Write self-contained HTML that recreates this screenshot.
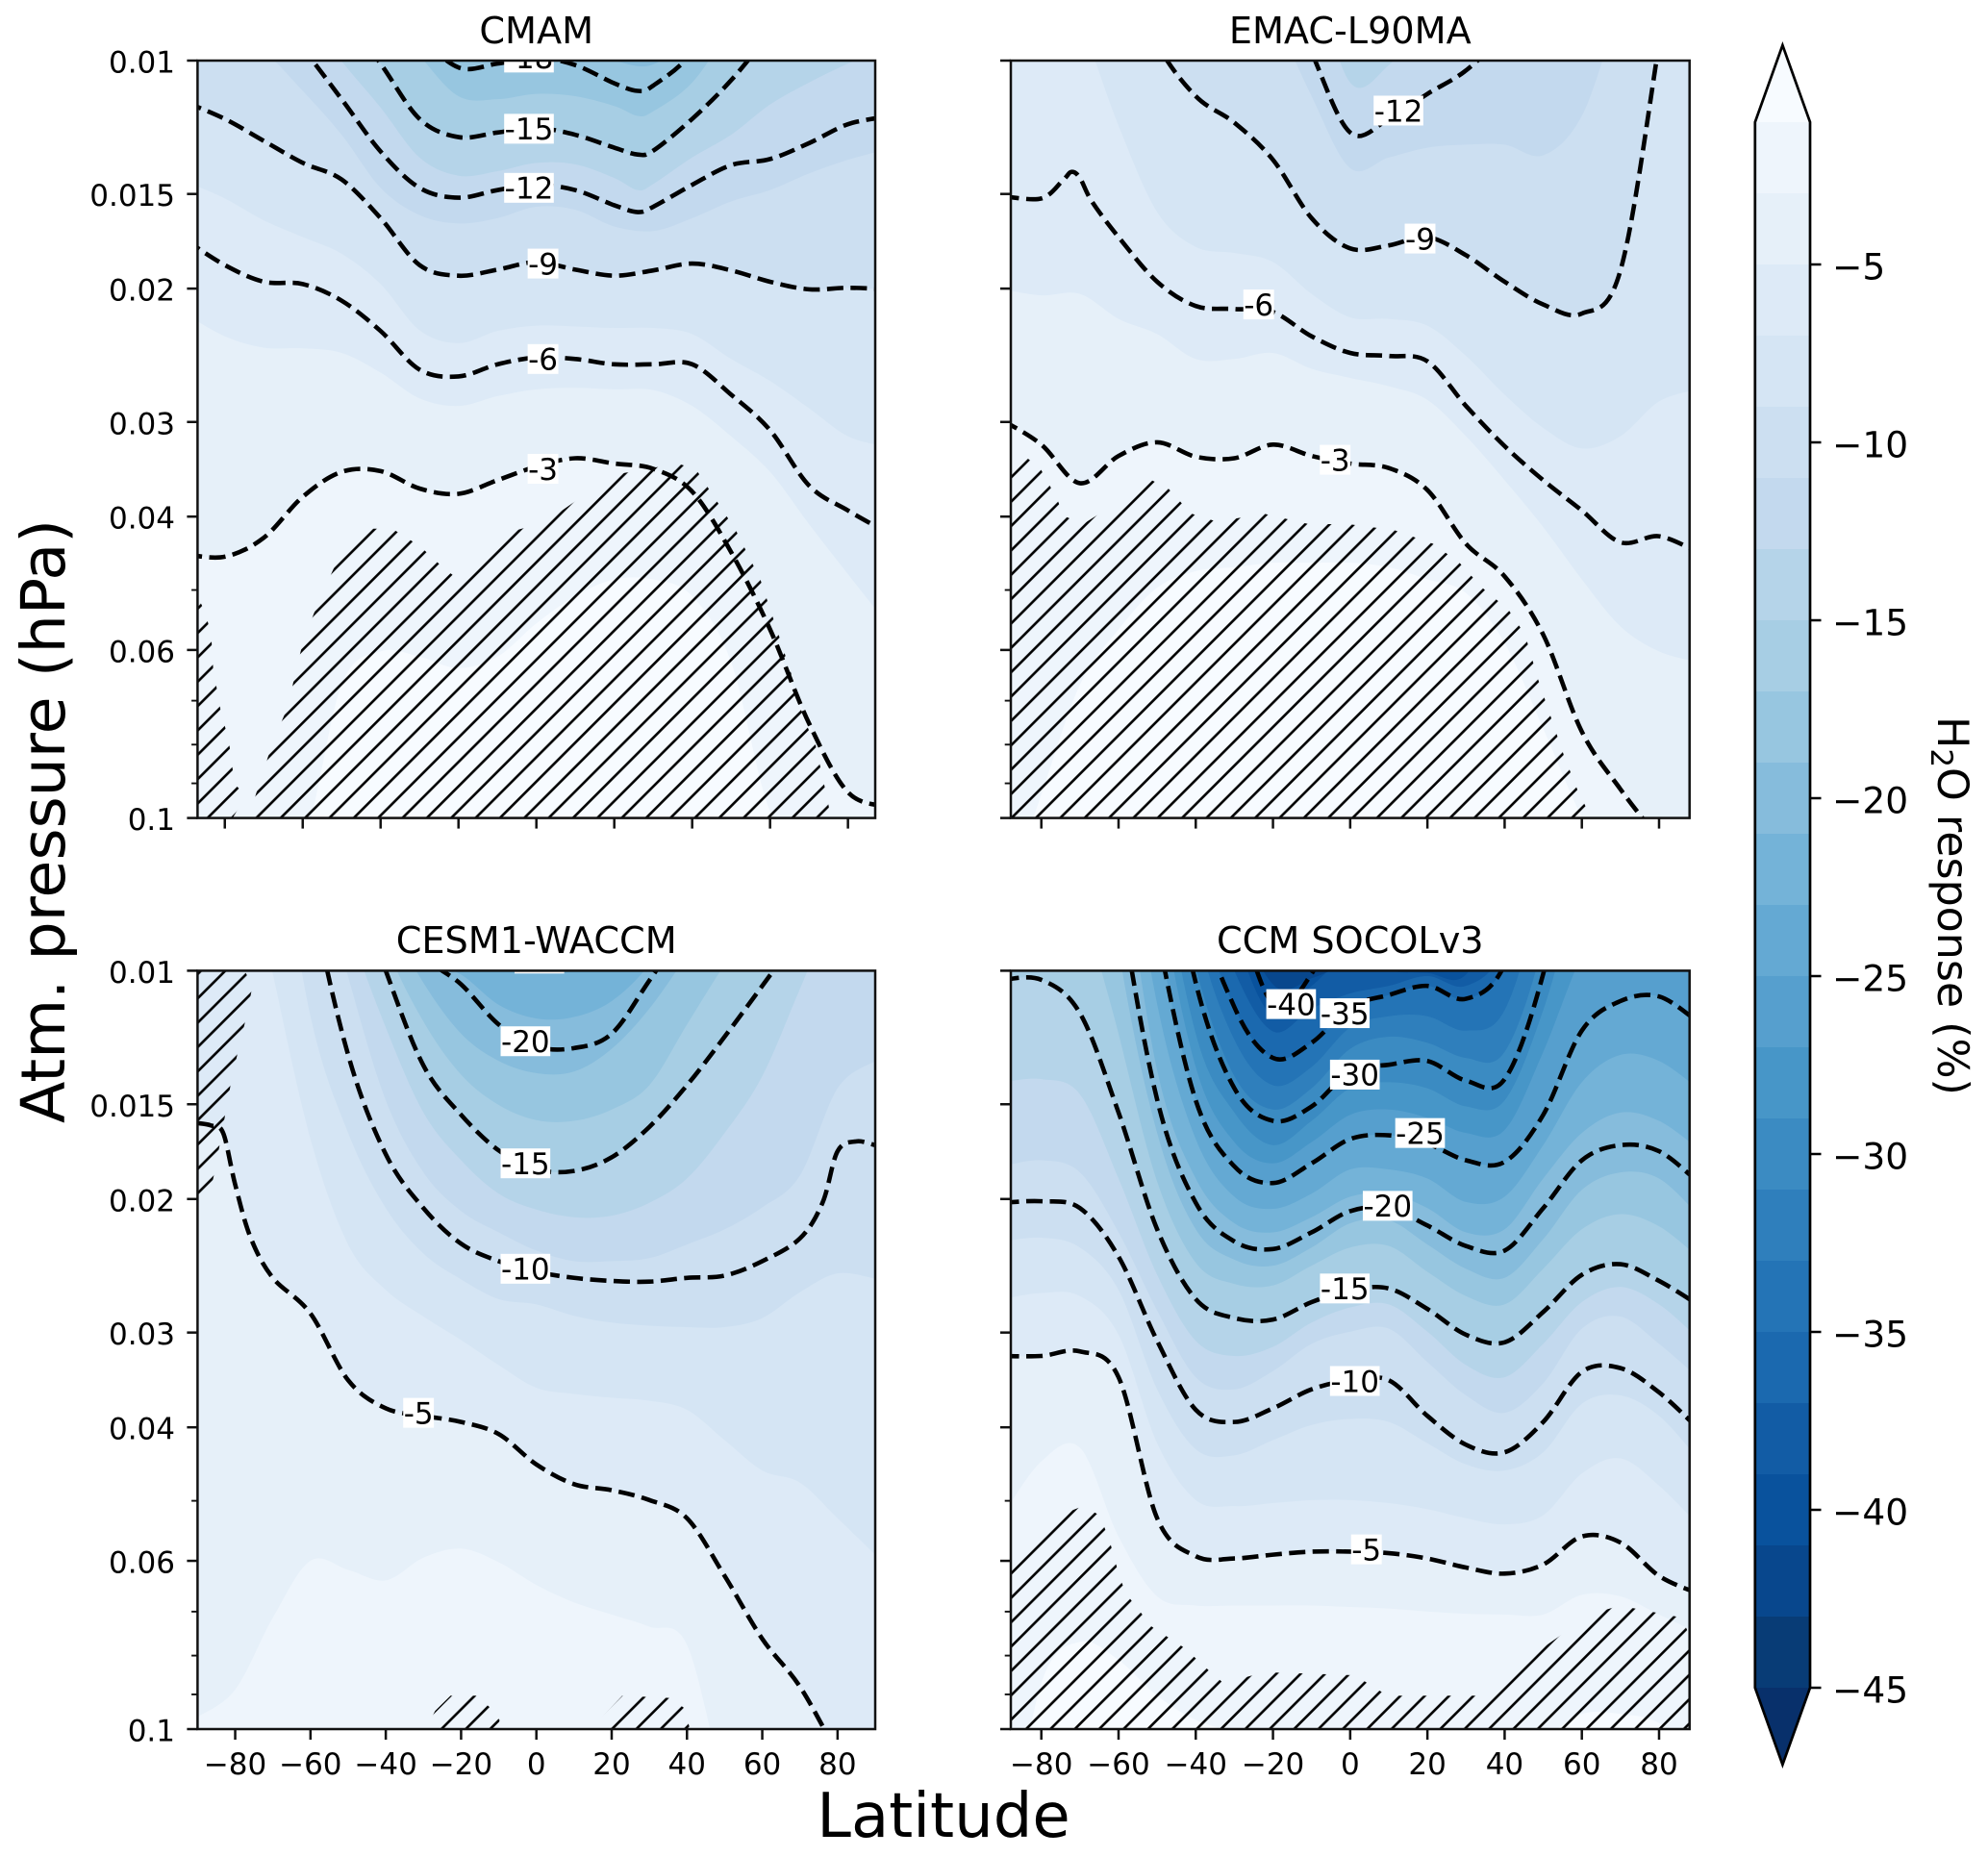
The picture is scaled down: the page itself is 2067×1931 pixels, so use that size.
<!DOCTYPE html>
<html lang="en">
<head>
<meta charset="utf-8">
<title>H2O response by latitude and pressure</title>
<style>
html,body{margin:0;padding:0;background:#fff}
svg{display:block}
text{font-family:"DejaVu Sans","Liberation Sans",sans-serif;fill:#000}
</style>
</head>
<body>
<svg id="figure" xmlns="http://www.w3.org/2000/svg" width="2067" height="1931" viewBox="0 0 2067 1931">
  <defs>
    <pattern id="hatch-pattern" patternUnits="userSpaceOnUse" width="25.33" height="25.33" patternTransform="translate(2.55,0)">
      <path d="M-2,2 L2,-2 M0,25.33 L25.33,0 M23.33,27.33 L27.33,23.33" stroke="#000" stroke-width="2.6" fill="none"/>
    </pattern>
  </defs>
  <rect x="0" y="0" width="2067" height="1931" fill="#fff"/>
  <g id="plots"></g>
  <g id="colorbar"></g>
  <text x="557.7" y="45" font-size="38.2" text-anchor="middle">CMAM</text>
  <text x="1403.8" y="45" font-size="38.2" text-anchor="middle">EMAC-L90MA</text>
  <text x="557.7" y="991" font-size="38.2" text-anchor="middle">CESM1-WACCM</text>
  <text x="1403.8" y="991" font-size="38.2" text-anchor="middle">CCM SOCOLv3</text>
  <text x="981" y="1910" font-size="64" text-anchor="middle">Latitude</text>
  <text transform="translate(67,854) rotate(-90)" font-size="63.5" text-anchor="middle">Atm. pressure (hPa)</text>
  <text transform="translate(2015,745) rotate(90)" font-size="44.3">H<tspan font-size="31" dy="7">2</tspan><tspan dy="-7">O response (%)</tspan></text>
</svg>
<script>
// logP values are log10(pressure / 0.01 hPa): 0 is 0.01 hPa, 1 is 0.1 hPa. Values outside 0..1 leave the axes.
const latitudes = [-90,-80,-70,-60,-50,-40,-30,-20,-10,0,10,20,30,40,50,60,70,80,90];
const xTickValues = [-80,-60,-40,-20,0,20,40,60,80];
const yTickPressures = [0.01,0.015,0.02,0.03,0.04,0.06,0.1];
const yTickLabels = ['0.01','0.015','0.02','0.03','0.04','0.06','0.1'];
const yMinorPressures = [0.05,0.07,0.08,0.09];
const colorbarTicks = [-5,-10,-15,-20,-25,-30,-35,-40,-45];
const colorBoundaries = [-1,-3,-5,-7,-9,-11,-13,-15,-17,-19,-21,-23,-25,-27,-29,-31,-33,-35,-37,-39,-41,-43,-45];
const bandColors = ['#eef5fc','#e6f0f9','#ddeaf7','#d5e5f4','#ccdff1','#c3d9ee','#b5d4e9','#a7cee4','#97c6e0','#86bcdc','#74b3d8','#64a9d3','#569fce','#4796c8','#3b8bc2','#2f7fbc','#2474b6','#1b69af','#125ca5','#09529d','#08478d','#083c76'];
const overColor = '#f7fbff';
const underColor = '#08306b';

const cmamLevels = [-1,-3,-5,-6,-7,-9,-11,-12,-13,-15,-17,-18,-19];
const cmamLogP = [
[1.035,1.035,1.035,1.035,.824,.78,.787,.802,.787,.743,.707,.685,.685,.707,.794,.991,1.035,1.035,1.035],
[.652,.655,.63,.576,.543,.542,.565,.572,.554,.536,.525,.532,.539,.569,.649,.751,.875,.966,.985],
[.335,.364,.379,.38,.386,.412,.446,.456,.443,.434,.432,.434,.435,.456,.496,.543,.612,.678,.743],
[.237,.27,.292,.295,.317,.357,.408,.417,.401,.392,.394,.401,.401,.401,.441,.488,.561,.594,.623],
[.16,.182,.211,.233,.255,.295,.356,.373,.357,.35,.351,.353,.353,.361,.394,.423,.459,.496,.51],
[.055,.077,.106,.135,.157,.208,.27,.284,.276,.266,.276,.284,.277,.268,.277,.292,.302,.3,.302],
[-.044,-.029,-.011,.04,.098,.168,.204,.215,.208,.193,.197,.219,.225,.208,.186,.171,.149,.131,.117],
[-.175,-.124,-.073,-.016,.051,.12,.168,.181,.171,.164,.171,.191,.193,.164,.138,.13,.109,.084,.074],
[-.226,-.175,-.124,-.066,.001,.062,.128,.152,.146,.135,.137,.155,.163,.128,.098,.058,.029,.004,-.018],
[-.299,-.248,-.19,-.131,-.066,.004,.077,.101,.095,.089,.098,.115,.119,.077,.026,-.036,-.095,-.153,-.211],
[-.34,-.29,-.24,-.19,-.131,-.073,-.007,.047,.051,.044,.047,.06,.067,.029,-.044,-.11,-.17,-.23,-.29],
[-.4,-.35,-.3,-.24,-.18,-.11,-.036,.009,.004,-.004,.006,.03,.033,-.011,-.1,-.17,-.23,-.29,-.35],
[-.45,-.4,-.35,-.3,-.23,-.16,-.07,-.012,-.02,-.03,-.02,0,.005,-.04,-.12,-.2,-.26,-.32,-.38]
];
const cmamKnotLevels = [-12,-13,-15,-17,-18];
const cmamKnotLat = [26,26,26,26,26];
const cmamKnotLogP = [.2,.171,.124,.073,.04];
const cmamLineLevels = [-3,-6,-9,-12,-15,-18];
const cmamLabelValues = [-18,-15,-12,-9,-6,-3];
const cmamLabelLat = [-1.9,-1.9,-1.9,1.7,1.7,1.7];
const cmamLabelLogP = [-.004,.09,.168,.268,.394,.539];
const cmamHatchLat = [
[-87,-85,-83.5,-83,-81,-79,-77.5,-74.5,-78,-87],
[-74,-70.9,-67.7,-63.8,-61.9,-59.8,-55.9,-50.4,-43.3,-37,-29.9,-23.6,-18.9,-11.8,-7.1,2.4,19.7,36.2,40.9,51.2,57.5,62.2,65.4,68.5,71.7,74.8,75.6]
];
const cmamHatchLogP = [
[.707,.729,.758,.802,.86,.897,.955,.971,1,1],
[1,.951,.9,.853,.809,.765,.714,.652,.618,.618,.641,.671,.689,.652,.623,.609,.547,.532,.539,.62,.685,.758,.809,.867,.904,.977,1]
];

const emacLevels = [-1,-3,-5,-6,-7,-9,-11,-12,-13];
const emacLogP = [
[1.122,.969,.824,.751,.696,.674,.669,.663,.663,.663,.669,.685,.703,.769,.882,.999,1.086,1.122,1.122],
[.475,.507,.558,.522,.504,.523,.525,.507,.522,.532,.538,.567,.638,.681,.758,.886,.962,1.028,1.093],
[.302,.31,.308,.341,.361,.394,.394,.386,.407,.419,.43,.448,.496,.554,.616,.685,.747,.78,.794],
[.179,.182,.155,.233,.292,.324,.328,.332,.364,.386,.39,.397,.456,.509,.554,.594,.636,.628,.649],
[-.226,-.138,-.051,.086,.2,.246,.254,.266,.308,.339,.341,.35,.39,.441,.485,.512,.496,.45,.434],
[-.299,-.248,-.204,-.138,-.022,.047,.082,.131,.208,.248,.244,.233,.257,.292,.322,.334,.277,-.022,-.372],
[-.467,-.43,-.394,-.357,-.314,-.262,-.189,-.066,.047,.142,.128,.115,.111,.111,.125,.073,-.066,-.153,-.226],
[-.54,-.5,-.46,-.41,-.36,-.3,-.226,-.138,-.011,.095,.077,.044,.013,-.036,-.095,-.153,-.21,-.27,-.33],
[-.6,-.55,-.5,-.45,-.4,-.35,-.3,-.22,-.117,.029,.006,-.058,-.12,-.18,-.24,-.3,-.36,-.42,-.48]
];
const emacKnotLevels = [-6,-6,-6];
const emacKnotLat = [-74.4,-72.2,-66.9];
const emacKnotLogP = [.158,.147,.186];
const emacLineLevels = [-3,-6,-9,-12];
const emacLabelValues = [-12,-9,-6,-3];
const emacLabelLat = [12.5,18.1,-23.7,-3.9];
const emacLabelLogP = [.066,.235,.322,.527];
const emacHatchLat = [
[-87.8,-83.6,-80.2,-75.9,-74.2,-69.2,-61.5,-51.4,-47.1,-41.2,-34.4,-22.5,-10.7,-.5,11.4,21.5,28.3,34.2,41,45.3,48.6,52,55.4,58.8,61,60,-87.8]
];
const emacHatchLogP = [
[.525,.525,.539,.579,.601,.612,.587,.554,.565,.598,.609,.598,.612,.612,.62,.638,.663,.696,.725,.758,.816,.867,.918,.962,.985,1,1]
];

const cesmLevels = [-3,-5,-7,-9,-10,-11,-13,-15,-17,-19,-20,-21];
const cesmLogP = [
[.984,.948,.853,.778,.79,.804,.774,.762,.78,.81,.833,.849,.865,.889,1.075,1.2,1.2,1.2,1.2],
[.201,.282,.405,.452,.54,.577,.587,.595,.611,.651,.677,.685,.698,.722,.798,.881,.944,1.032,1.115],
[-.472,-.234,.004,.222,.361,.421,.456,.487,.52,.55,.558,.563,.567,.579,.619,.659,.675,.722,.77],
[-.786,-.512,-.234,.06,.214,.313,.373,.407,.433,.44,.455,.464,.468,.47,.47,.458,.424,.399,.406],
[-1.107,-.79,-.393,-.106,.111,.242,.313,.36,.383,.397,.405,.409,.41,.405,.402,.383,.353,.238,.23],
[-1.107,-.79,-.472,-.179,.008,.171,.266,.317,.345,.369,.383,.383,.379,.361,.341,.312,.27,.155,.119],
[-1.107,-.79,-.472,-.218,-.06,.075,.187,.25,.294,.315,.325,.323,.306,.274,.214,.139,.024,-.091,-.155],
[-1.028,-.79,-.552,-.314,-.147,0,.125,.19,.237,.262,.264,.246,.206,.151,.087,.02,-.048,-.115,-.187],
[-1.1,-.8,-.5,-.3,-.2,-.036,.067,.137,.177,.197,.198,.183,.151,.071,-.008,-.075,-.15,-.25,-.35],
[-1.1,-.8,-.5,-.3,-.18,-.075,.016,.083,.119,.135,.133,.103,.05,-.02,-.091,-.16,-.25,-.35,-.45],
[-.8,-.6,-.4,-.23,-.155,-.091,-.02,.018,.071,.1,.102,.083,.013,-.06,-.123,-.2,-.3,-.4,-.5],
[-1.1,-.8,-.5,-.3,-.2,-.1,-.016,.005,.045,.063,.061,.04,-.008,-.083,-.16,-.25,-.35,-.45,-.55]
];
const cesmKnotLevels = [-5,-5,-5,-10,-10];
const cesmKnotLat = [-86.5,-83.2,-75.9,76,85];
const cesmKnotLogP = [.204,.214,.352,.306,.225];
const cesmLineLevels = [-5,-10,-15,-20];
const cesmLabelValues = [-25,-20,-15,-10,-5];
const cesmLabelLat = [.8,-2.9,-2.9,-2.9,-31.3];
const cesmLabelLogP = [-.016,.093,.254,.393,.583];
const cesmHatchLat = [
[-90,-77.5,-75.4,-77,-79.1,-81.1,-82.4,-83.7,-85.3,-87.3,-90],
[-29.4,-26.9,-22.8,-16,-12.2,-9.8,-10],
[14.4,22.8,35.4,39.2,40.8]
];
const cesmHatchLogP = [
[0,0,.02,.06,.103,.147,.183,.218,.262,.306,.321],
[1,.976,.956,.956,.972,.988,1],
[1,.956,.959,.972,1]
];

const socolLevels = [-1,-3,-5,-7,-9,-10,-11,-13,-15,-17,-19,-20,-21,-23,-25,-27,-29,-30,-31,-33,-35,-37,-39,-40,-41];
const socolLogP = [
[1.194,.94,.885,.909,.956,.988,1.004,1.02,1.036,1.036,1.036,1.036,1.036,1.036,1.012,.98,.98,.992,1.036],
[.718,.647,.629,.746,.825,.837,.837,.837,.837,.839,.841,.845,.848,.849,.849,.823,.825,.849,.873],
[.508,.508,.502,.536,.722,.772,.775,.77,.766,.766,.768,.775,.787,.795,.783,.746,.754,.798,.821],
[.433,.425,.429,.48,.623,.698,.706,.702,.698,.698,.702,.71,.722,.73,.718,.663,.643,.679,.73],
[.357,.352,.365,.421,.552,.631,.639,.619,.599,.591,.595,.623,.651,.659,.635,.571,.56,.587,.643],
[.306,.304,.313,.377,.488,.579,.595,.577,.552,.54,.54,.587,.625,.635,.595,.529,.524,.556,.603],
[.258,.25,.266,.345,.448,.536,.552,.528,.492,.476,.472,.516,.56,.583,.544,.472,.456,.492,.536],
[.147,.143,.163,.274,.401,.488,.508,.496,.464,.444,.44,.476,.52,.536,.492,.437,.417,.44,.484],
[.012,.012,.056,.187,.341,.433,.458,.46,.437,.421,.419,.446,.48,.49,.45,.401,.387,.409,.44],
[-.79,-.472,-.123,.083,.278,.385,.413,.415,.389,.365,.363,.397,.429,.44,.393,.341,.321,.337,.377],
[-1.028,-.71,-.393,-.028,.214,.341,.381,.389,.365,.333,.329,.361,.393,.405,.354,.289,.266,.274,.321],
[-1.107,-.79,-.472,-.107,.17,.306,.357,.367,.345,.317,.313,.336,.363,.369,.313,.25,.23,.238,.278],
[-1.187,-.869,-.552,-.194,.131,.274,.333,.345,.325,.298,.294,.313,.345,.341,.274,.214,.187,.198,.234],
[-1.3,-1,-.65,-.274,.044,.222,.298,.314,.294,.262,.262,.274,.305,.298,.23,.147,.111,.119,.155],
[-1.266,-1.028,-.71,-.353,-.052,.171,.258,.28,.254,.222,.217,.228,.25,.252,.19,.079,.04,.034,.067],
[-1.4,-1.1,-.8,-.55,-.131,.127,.226,.254,.226,.19,.183,.194,.214,.21,.107,-.02,-.099,-.107,-.091],
[-1.5,-1.2,-.9,-.65,-.194,.083,.187,.23,.198,.155,.147,.155,.179,.171,.052,-.123,-.25,-.3,-.35],
[-1.6,-1.3,-1,-.6,-.25,.016,.155,.198,.179,.133,.124,.119,.145,.143,.004,-.234,-.5,-.8,-1.1],
[-1.6,-1.3,-1,-.6,-.25,-.004,.139,.183,.155,.103,.087,.095,.115,.107,-.036,-.28,-.4,-.5,-.6],
[-1.6,-1.3,-1,-.6,-.35,-.06,.091,.151,.127,.075,.06,.06,.079,.052,-.115,-.35,-.5,-.6,-.7],
[-1.8,-1.5,-1.2,-.9,-.5,-.115,.048,.115,.095,.048,.032,.02,.037,-.008,-.179,-.45,-.75,-1,-1.3],
[-1.8,-1.5,-1.2,-.9,-.5,-.15,0,.08,.05,.03,.02,.007,.02,-.03,-.2,-.5,-.8,-1,-1.3],
[-1.8,-1.5,-1.2,-.9,-.6,-.25,-.05,.06,.02,-.02,0,.003,.005,-.1,-.3,-.6,-.9,-1.1,-1.4],
[-1.8,-1.5,-1.2,-.9,-.7,-.3,-.099,.044,.004,-.107,-.15,-.2,-.25,-.4,-.6,-.9,-1.1,-1.3,-1.5],
[-1.8,-1.5,-1.2,-.9,-.7,-.35,-.1,.018,.01,-.02,-.1,-.2,-.25,-.4,-.6,-.9,-1.1,-1.3,-1.5]
];
const socolKnotLevels = [];
const socolKnotLat = [];
const socolKnotLogP = [];
const socolLineLevels = [-5,-10,-15,-20,-25,-30,-35,-40];
const socolLabelValues = [-40,-35,-30,-25,-20,-15,-10,-5];
const socolLabelLat = [-15.3,-1.4,1.2,18.1,9.7,-1.4,1.2,4.2];
const socolLabelLogP = [.044,.056,.137,.214,.31,.419,.541,.763];
const socolHatchLat = [
[-87.9,-79.3,-69.2,-64.9,-62.4,-59.8,-58.1,-51.4,-42.9,-36.1,-32.7,-22.5,-15.8,1.2,9.7,35.1,45.3,62.2,69.8,85.9,87.9,87.9,-87.9]
];
const socolHatchLogP = [
[.77,.726,.706,.718,.75,.798,.821,.865,.893,.925,.94,.925,.926,.929,.956,.956,.909,.849,.837,.853,.877,1,1]
];

const SVG_NS = 'http://www.w3.org/2000/svg';
function make(parent, tag, attrs) {
  const node = document.createElementNS(SVG_NS, tag);
  for (const key in attrs) node.setAttribute(key, attrs[key]);
  parent.appendChild(node);
  return node;
}
function splinePath(points) {
  let d = 'M' + points[0][0].toFixed(2) + ',' + points[0][1].toFixed(2);
  for (let i = 0; i < points.length - 1; i++) {
    const p0 = points[Math.max(i - 1, 0)];
    const p1 = points[i];
    const p2 = points[i + 1];
    const p3 = points[Math.min(i + 2, points.length - 1)];
    const c1x = p1[0] + (p2[0] - p0[0]) / 6;
    const c1y = p1[1] + (p2[1] - p0[1]) / 6;
    const c2x = p2[0] - (p3[0] - p1[0]) / 6;
    const c2y = p2[1] - (p3[1] - p1[1]) / 6;
    d += 'C' + c1x.toFixed(2) + ',' + c1y.toFixed(2) + ' ' + c2x.toFixed(2) + ',' + c2y.toFixed(2) + ' ' + p2[0].toFixed(2) + ',' + p2[1].toFixed(2);
  }
  return d;
}

const panelSpecs = [
  {key:'cmam', left:205.4, right:910, top:63, bottom:850.6, latMax:87, xLabels:false, yLabels:true, levels:cmamLevels, logP:cmamLogP, knotLevels:cmamKnotLevels, knotLat:cmamKnotLat, knotLogP:cmamKnotLogP, lineLevels:cmamLineLevels, labelValues:cmamLabelValues, labelLat:cmamLabelLat, labelLogP:cmamLabelLogP, hatchLat:cmamHatchLat, hatchLogP:cmamHatchLogP},
  {key:'emac', left:1051, right:1756.7, top:63, bottom:850.6, latMax:87.9, xLabels:false, yLabels:false, levels:emacLevels, logP:emacLogP, knotLevels:emacKnotLevels, knotLat:emacKnotLat, knotLogP:emacKnotLogP, lineLevels:emacLineLevels, labelValues:emacLabelValues, labelLat:emacLabelLat, labelLogP:emacLabelLogP, hatchLat:emacHatchLat, hatchLogP:emacHatchLogP},
  {key:'cesm', left:205.4, right:910, top:1009.4, bottom:1798, latMax:90, xLabels:true, yLabels:true, levels:cesmLevels, logP:cesmLogP, knotLevels:cesmKnotLevels, knotLat:cesmKnotLat, knotLogP:cesmKnotLogP, lineLevels:cesmLineLevels, labelValues:cesmLabelValues, labelLat:cesmLabelLat, labelLogP:cesmLabelLogP, hatchLat:cesmHatchLat, hatchLogP:cesmHatchLogP},
  {key:'socol', left:1051, right:1756.7, top:1009.4, bottom:1798, latMax:87.9, xLabels:true, yLabels:false, levels:socolLevels, logP:socolLogP, knotLevels:socolKnotLevels, knotLat:socolKnotLat, knotLogP:socolKnotLogP, lineLevels:socolLineLevels, labelValues:socolLabelValues, labelLat:socolLabelLat, labelLogP:socolLabelLogP, hatchLat:socolHatchLat, hatchLogP:socolHatchLogP}
];

function drawPanel(spec) {
  const root = document.getElementById('plots');
  const xScale = lat => spec.left + (lat + spec.latMax) / (2 * spec.latMax) * (spec.right - spec.left);
  const yScale = logP => spec.top + logP * (spec.bottom - spec.top);
  const yFromPressure = p => yScale(Math.log10(p / 0.01));
  const curvePoints = i => {
    const samples = latitudes.map((lat, j) => [lat, spec.logP[i][j]]);
    spec.knotLevels.forEach((level, k) => {
      if (level === spec.levels[i]) samples.push([spec.knotLat[k], spec.knotLogP[k]]);
    });
    samples.sort((a, b) => a[0] - b[0]);
    return samples.map(s => [xScale(s[0]), yScale(s[1])]);
  };

  const group = make(root, 'g', {});
  
  

  const clip = make(group, 'clipPath', {id: 'clip-' + spec.key});
  make(clip, 'rect', {x: spec.left, y: spec.top, width: spec.right - spec.left, height: spec.bottom - spec.top});

  const plot = make(group, 'g', {'clip-path': 'url(#clip-' + spec.key + ')'});
  
  

  const base = make(plot, 'rect', {x: spec.left, y: spec.top, width: spec.right - spec.left, height: spec.bottom - spec.top, fill: overColor});
  
  

  const firstLevel = spec.levels[0];
  if (firstLevel !== -1) {
    base.setAttribute('fill', bandColors[0]);
  }

  spec.levels.forEach((level, i) => {
    const bandIndex = colorBoundaries.indexOf(level);
    if (bandIndex < 0) return;
    const pts = curvePoints(i);
    const topY = yScale(-3);
    const d = splinePath(pts) + 'L' + pts[pts.length - 1][0].toFixed(2) + ',' + topY.toFixed(2) + 'L' + pts[0][0].toFixed(2) + ',' + topY.toFixed(2) + 'Z';
    const band = make(plot, 'path', {d: d, fill: bandColors[bandIndex]});
    
    
  });

  spec.hatchLat.forEach((lats, k) => {
    const d = 'M' + lats.map((lat, j) => xScale(lat).toFixed(2) + ',' + yScale(spec.hatchLogP[k][j]).toFixed(2)).join('L') + 'Z';
    const hatch = make(plot, 'path', {d: d, fill: 'url(#hatch-pattern)'});
    
    
  });

  spec.lineLevels.forEach(level => {
    const i = spec.levels.indexOf(level);
    const line = make(plot, 'path', {d: splinePath(curvePoints(i)), fill: 'none', stroke: '#000', 'stroke-width': 4.6, 'stroke-dasharray': '17 7.5'});
    
    
  });

  spec.labelValues.forEach((value, i) => {
    const txt = String(value);
    const w = 31 * (0.361 + 0.636 * (txt.length - 1)) + 1;
    const cx = xScale(spec.labelLat[i]);
    const cy = yScale(spec.labelLogP[i]);
    const box = make(plot, 'rect', {x: cx - w / 2, y: cy - 15.5, width: w, height: 31, fill: '#fff'});
    
    
    const label = make(plot, 'text', {x: cx, y: cy + 11.3, 'font-size': 31, 'text-anchor': 'middle'});
    label.textContent = txt;
    
    
  });

  const frame = make(group, 'rect', {x: spec.left, y: spec.top, width: spec.right - spec.left, height: spec.bottom - spec.top, fill: 'none', stroke: '#111', 'stroke-width': 2.5});
  
  

  xTickValues.forEach(value => {
    const x = xScale(value);
    const tick = make(group, 'line', {x1: x, x2: x, y1: spec.bottom, y2: spec.bottom + 11, stroke: '#111', 'stroke-width': 2.5});
    
    
    if (spec.xLabels) {
      const label = make(group, 'text', {x: x, y: 1845, 'font-size': 31, 'text-anchor': 'middle'});
      label.textContent = String(value).replace('-', '\u2212');
      
      
    }
  });

  yTickPressures.forEach((p, i) => {
    const y = yFromPressure(p);
    const tick = make(group, 'line', {x1: spec.left - 11, x2: spec.left, y1: y, y2: y, stroke: '#111', 'stroke-width': 2.5});
    
    
    if (spec.yLabels) {
      const label = make(group, 'text', {x: 182, y: y + 12.5, 'font-size': 31, 'text-anchor': 'end'});
      label.textContent = yTickLabels[i];
      
      
    }
  });

  yMinorPressures.forEach(p => {
    const y = yFromPressure(p);
    const tick = make(group, 'line', {x1: spec.left - 6.3, x2: spec.left, y1: y, y2: y, stroke: '#111', 'stroke-width': 1.9});
    
    
  });
}

function drawColorbar() {
  const root = document.getElementById('colorbar');
  const left = 1824.8;
  const right = 1882;
  const mid = (left + right) / 2;
  const yScale = v => 275 + (-5 - v) * 37;
  const topShoulder = yScale(colorBoundaries[0]);
  const bottomShoulder = yScale(colorBoundaries[colorBoundaries.length - 1]);
  const topTip = 47;
  const bottomTip = 1835;

  const over = make(root, 'path', {d: 'M' + left + ',' + topShoulder + 'L' + mid + ',' + topTip + 'L' + right + ',' + topShoulder + 'Z', fill: overColor});
  
  

  bandColors.forEach((color, i) => {
    const y0 = yScale(colorBoundaries[i]);
    const y1 = yScale(colorBoundaries[i + 1]);
    const band = make(root, 'rect', {x: left, y: y0, width: right - left, height: y1 - y0 + 0.5, fill: color});
    
    
  });

  const under = make(root, 'path', {d: 'M' + left + ',' + bottomShoulder + 'L' + mid + ',' + bottomTip + 'L' + right + ',' + bottomShoulder + 'Z', fill: underColor});
  
  

  const outline = make(root, 'path', {d: 'M' + left + ',' + topShoulder + 'L' + mid + ',' + topTip + 'L' + right + ',' + topShoulder + 'L' + right + ',' + bottomShoulder + 'L' + mid + ',' + bottomTip + 'L' + left + ',' + bottomShoulder + 'Z', fill: 'none', stroke: '#000', 'stroke-width': 2.7});
  
  

  colorbarTicks.forEach(value => {
    const y = yScale(value);
    const tick = make(root, 'line', {x1: right, x2: right + 11.5, y1: y, y2: y, stroke: '#000', 'stroke-width': 2.5});
    
    
    const label = make(root, 'text', {x: 1905, y: y + 15.7, 'font-size': 37.5});
    label.textContent = String(value).replace('-', '\u2212');
    
    
  });
}

panelSpecs.forEach(drawPanel);
drawColorbar();
</script>
</body>
</html>
